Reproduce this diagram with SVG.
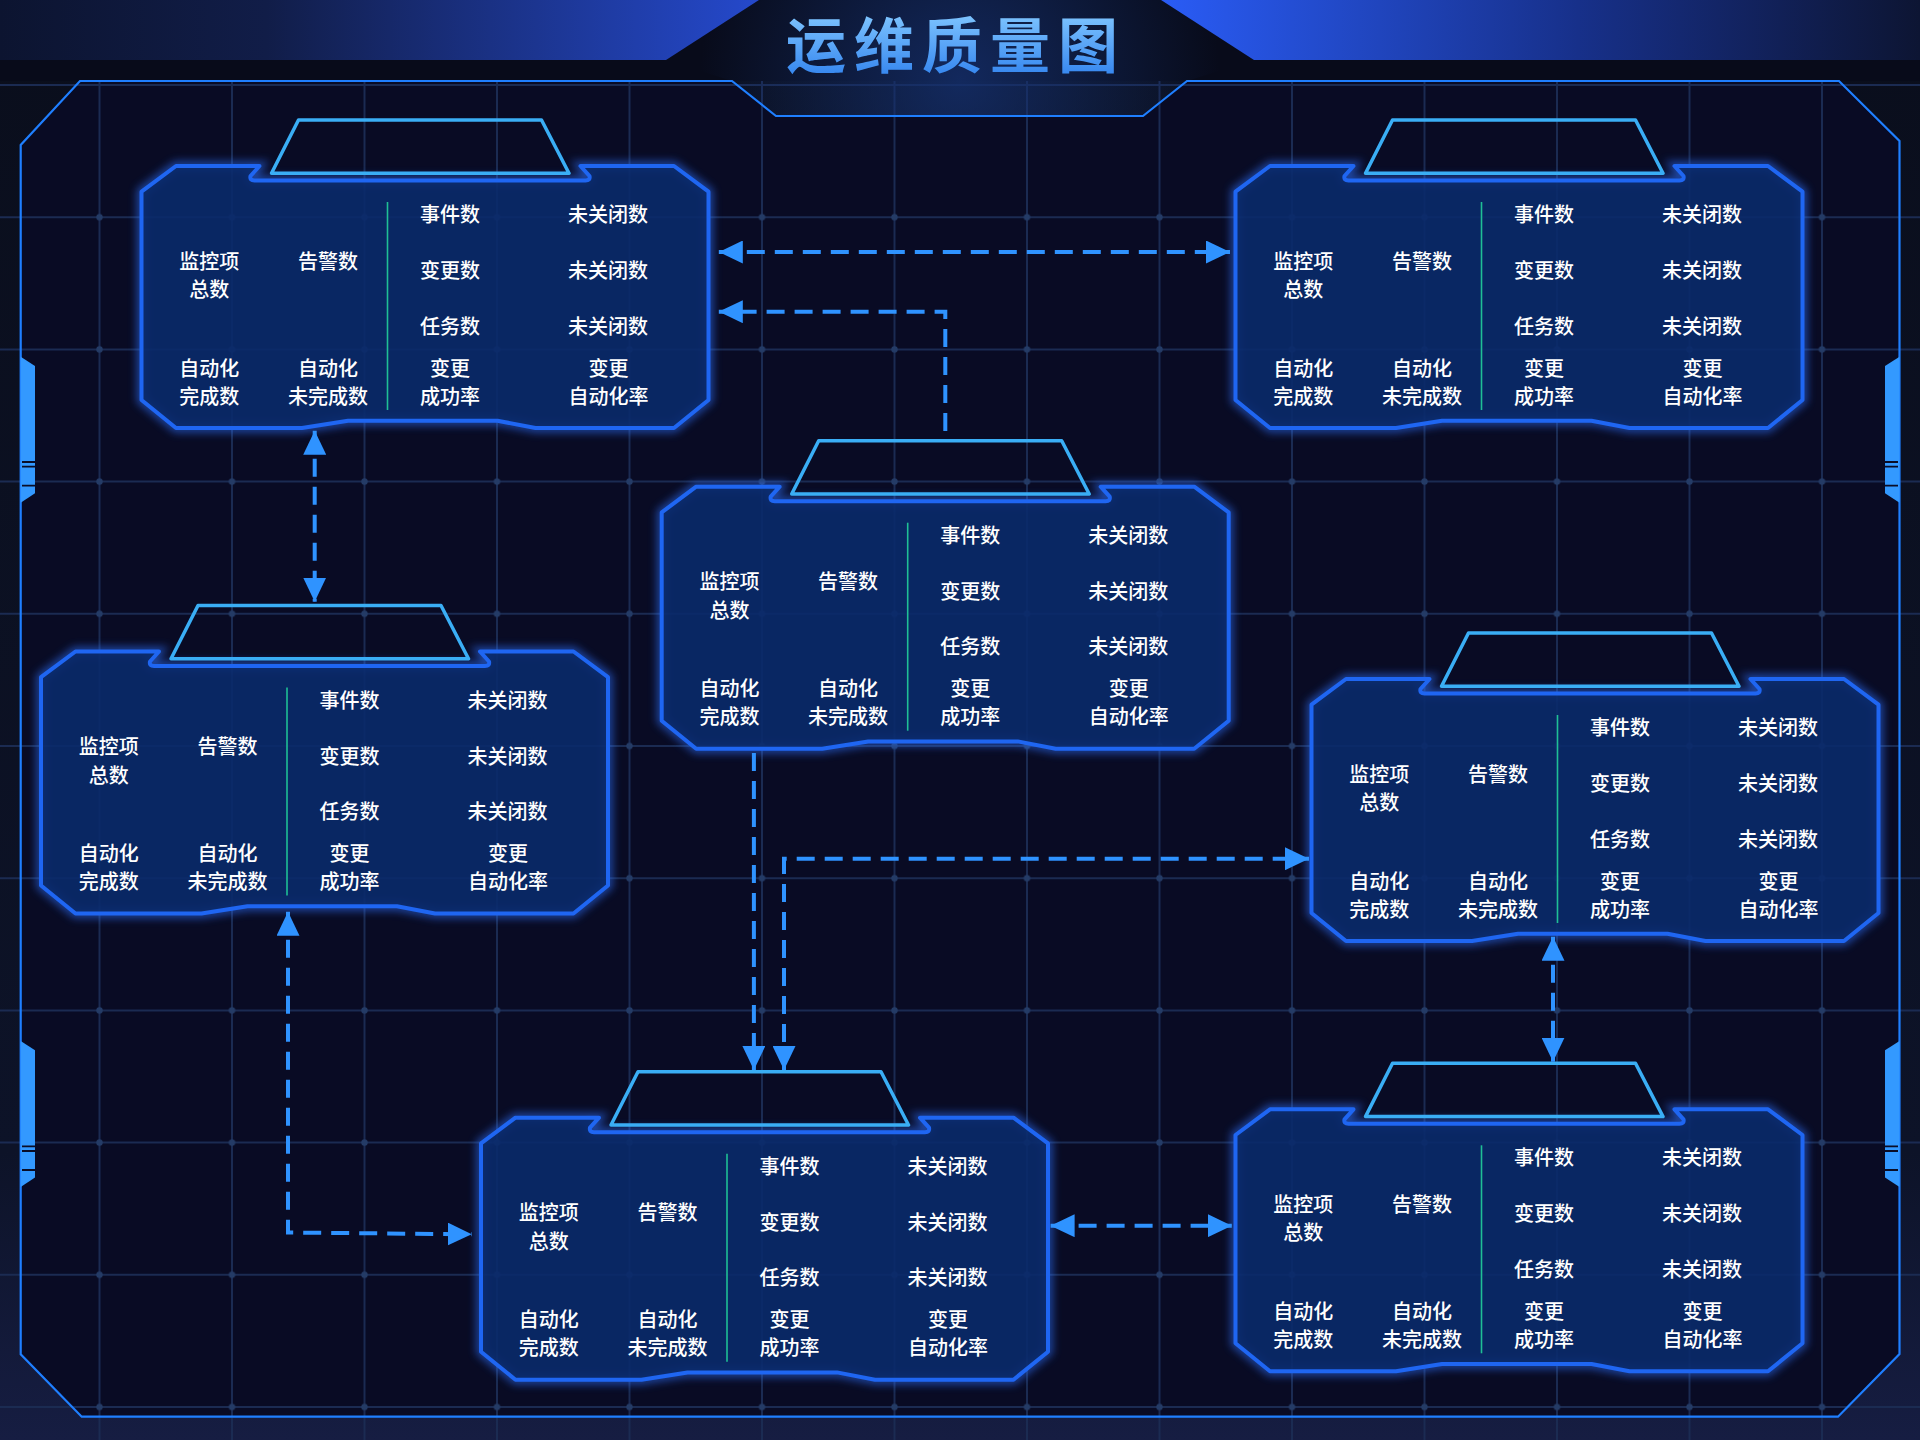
<svg xmlns="http://www.w3.org/2000/svg" width="1920" height="1440" viewBox="0 0 1920 1440">
<defs>
<style>
.grid line{stroke:#1b2b52;stroke-width:2}
.pglow{fill:none;stroke:#2d72ff;stroke-width:9;opacity:.6;filter:url(#glow)}
.pfill{fill:#0a2a6a;fill-opacity:.9;stroke:#1f66f2;stroke-width:4;stroke-linejoin:round}
.tab{fill:none;stroke:#3aaef5;stroke-width:3.5;stroke-linejoin:round}
.div{stroke:#1fbf95;stroke-width:1.6}
.t{font-family:"Noto Sans CJK SC","Noto Sans",sans-serif;font-size:20px;fill:#ffffff;text-anchor:middle;dominant-baseline:central;font-weight:500}
.conn{fill:none;stroke:#2f93ff;stroke-width:4;stroke-dasharray:18 10}
.both{marker-start:url(#arr);marker-end:url(#arr)}
.end{marker-end:url(#arr)}
.decor{fill:#3399ff}
.stripe{stroke:#0a0d26;stroke-width:1.8}
</style>
<linearGradient id="bgGrad" x1="0" y1="0" x2="0" y2="1440" gradientUnits="userSpaceOnUse">
<stop offset="0" stop-color="#0a0e1c"/><stop offset="0.8" stop-color="#0d1328"/><stop offset="1" stop-color="#161d42"/>
</linearGradient>
<linearGradient id="hdrL" x1="0" y1="0" x2="760" y2="0" gradientUnits="userSpaceOnUse">
<stop offset="0" stop-color="#0c1430"/><stop offset="0.35" stop-color="#111d48"/><stop offset="1" stop-color="#2549cc"/>
</linearGradient>
<linearGradient id="hdrR" x1="1160" y1="0" x2="1920" y2="0" gradientUnits="userSpaceOnUse">
<stop offset="0" stop-color="#2a5cf6"/><stop offset="0.55" stop-color="#17308a"/><stop offset="1" stop-color="#0d1533"/>
</linearGradient>
<radialGradient id="hdrGlow" cx="960" cy="80" r="260" gradientUnits="userSpaceOnUse">
<stop offset="0" stop-color="#15306e" stop-opacity="0.8"/><stop offset="1" stop-color="#15306e" stop-opacity="0"/>
</radialGradient>
<linearGradient id="titleGrad" x1="0" y1="12" x2="0" y2="72" gradientUnits="userSpaceOnUse">
<stop offset="0" stop-color="#80c6ff"/><stop offset="1" stop-color="#3a8af0"/>
</linearGradient>
<pattern id="dotPat" x="33.25" y="151.1" width="132.5" height="132.2" patternUnits="userSpaceOnUse">
<circle cx="66.25" cy="66.1" r="3.2" fill="#243b66"/>
</pattern>
<filter id="glow" x="-5%" y="-10%" width="110%" height="125%"><feGaussianBlur stdDeviation="4"/></filter>
<marker id="arr" viewBox="0 0 24 23" refX="24" refY="11.5" markerWidth="24" markerHeight="23" markerUnits="userSpaceOnUse" orient="auto-start-reverse"><path d="M0,0 L24,11.5 L0,23 Z" fill="#2f93ff"/></marker>
<path id="panel" d="M0,25.7 L34.5,0 L118,0 L109,10 Q108,14.5 113,14.5 L444,14.5 Q449,14.5 448,10 L439,0 L532.5,0 L567,25.7 L567,234 L532.5,262 L394,262 L356,254.7 L206.5,254.7 L160.5,262 L34.5,262 L0,234 Z"/>
<path id="tabp" d="M157,-46 L400,-46 L427.5,7.3 L130,7.3 Z"/>
</defs>

<rect x="0" y="0" width="1920" height="1440" fill="url(#bgGrad)"/>
<path d="M80,81 L732,81 L776,116 L1143,116 L1187,81 L1839,81 L1899.5,141 L1899.5,1354 L1838,1416.7 L81.7,1416.7 L20.7,1354.3 L20.7,145 Z" fill="#090b24"/>

<g class="grid">
<line x1="99.5" y1="81" x2="99.5" y2="1440"/><line x1="232" y1="81" x2="232" y2="1440"/><line x1="364.5" y1="81" x2="364.5" y2="1440"/><line x1="497" y1="81" x2="497" y2="1440"/><line x1="629.5" y1="81" x2="629.5" y2="1440"/><line x1="762" y1="81" x2="762" y2="1440"/><line x1="894.5" y1="81" x2="894.5" y2="1440"/><line x1="1027" y1="81" x2="1027" y2="1440"/><line x1="1159.5" y1="81" x2="1159.5" y2="1440"/><line x1="1292" y1="81" x2="1292" y2="1440"/><line x1="1424.5" y1="81" x2="1424.5" y2="1440"/><line x1="1557" y1="81" x2="1557" y2="1440"/><line x1="1689.5" y1="81" x2="1689.5" y2="1440"/><line x1="1822" y1="81" x2="1822" y2="1440"/>
<line x1="0" y1="85" x2="1920" y2="85"/><line x1="0" y1="217.2" x2="1920" y2="217.2"/><line x1="0" y1="349.4" x2="1920" y2="349.4"/><line x1="0" y1="481.6" x2="1920" y2="481.6"/><line x1="0" y1="613.8" x2="1920" y2="613.8"/><line x1="0" y1="746" x2="1920" y2="746"/><line x1="0" y1="878.2" x2="1920" y2="878.2"/><line x1="0" y1="1010.4" x2="1920" y2="1010.4"/><line x1="0" y1="1142.6" x2="1920" y2="1142.6"/><line x1="0" y1="1274.8" x2="1920" y2="1274.8"/><line x1="0" y1="1407" x2="1920" y2="1407"/>
</g>
<rect id="grid-dots" x="0" y="151.1" width="1920" height="1288.9" fill="url(#dotPat)"/>

<!-- header -->
<rect x="0" y="0" width="1920" height="81" fill="#080b1a"/>
<path d="M0,0 L759,0 L666,60 L0,60 Z" fill="url(#hdrL)"/>
<path d="M1161,0 L1920,0 L1920,60 L1254,60 Z" fill="url(#hdrR)"/>
<path d="M759,0 L1161,0 L1254,60 L1187,81 L1143,116 L776,116 L732,81 L666,60 Z" fill="url(#hdrGlow)"/>
<text x="956" y="41" font-family="'Noto Sans CJK SC','Noto Sans',sans-serif" font-size="60" font-weight="700" letter-spacing="8" text-anchor="middle" dominant-baseline="central" fill="url(#titleGrad)">运维质量图</text>

<!-- frame -->
<path d="M80,81 L732,81 L776,116 L1143,116 L1187,81 L1839,81 L1899.5,141 L1899.5,1354 L1838,1416.7 L81.7,1416.7 L20.7,1354.3 L20.7,145 Z" fill="none" stroke="#1f7fff" stroke-width="2.2"/>
<g id="frame-decor">
<path class="decor" d="M20.7,356.7 L35,366 L35,493.3 L20.7,502.7 Z"/>
<path class="decor" d="M20.7,1041 L35,1050.3 L35,1177.6 L20.7,1187 Z"/>
<path class="decor" d="M1899.5,356.7 L1885,366 L1885,493.3 L1899.5,502.7 Z"/>
<path class="decor" d="M1899.5,1041 L1885,1050.3 L1885,1177.6 L1899.5,1187 Z"/>
<path class="stripe" d="M22,462 H35 M22,466.7 H35 M22,485.7 H35 M22,1146.3 H35 M22,1151 H35 M22,1170 H35 M1885,462 H1898 M1885,466.7 H1898 M1885,485.7 H1898 M1885,1146.3 H1898 M1885,1151 H1898 M1885,1170 H1898"/>
</g>

<!-- nodes -->
<g id="node-1" transform="translate(141.5,166)">
<use href="#panel" class="pglow"/><use href="#panel" class="pfill"/><use href="#tabp" class="tab"/>
<line class="div" x1="246" y1="36" x2="246" y2="244"/>
<text class="t" x="67.7" y="94">监控项</text><text class="t" x="67.7" y="122.5">总数</text><text class="t" x="186.4" y="94">告警数</text>
<text class="t" x="67.7" y="201">自动化</text><text class="t" x="67.7" y="229">完成数</text><text class="t" x="186.4" y="201">自动化</text><text class="t" x="186.4" y="229">未完成数</text>
<text class="t" x="308.5" y="47.5">事件数</text><text class="t" x="466.5" y="47.5">未关闭数</text><text class="t" x="308.5" y="103.5">变更数</text><text class="t" x="466.5" y="103.5">未关闭数</text><text class="t" x="308.5" y="159">任务数</text><text class="t" x="466.5" y="159">未关闭数</text>
<text class="t" x="308.5" y="201">变更</text><text class="t" x="308.5" y="229">成功率</text><text class="t" x="467" y="201">变更</text><text class="t" x="467" y="229">自动化率</text>
</g>
<g id="node-2" transform="translate(1235.5,166)">
<use href="#panel" class="pglow"/><use href="#panel" class="pfill"/><use href="#tabp" class="tab"/>
<line class="div" x1="246" y1="36" x2="246" y2="244"/>
<text class="t" x="67.7" y="94">监控项</text><text class="t" x="67.7" y="122.5">总数</text><text class="t" x="186.4" y="94">告警数</text>
<text class="t" x="67.7" y="201">自动化</text><text class="t" x="67.7" y="229">完成数</text><text class="t" x="186.4" y="201">自动化</text><text class="t" x="186.4" y="229">未完成数</text>
<text class="t" x="308.5" y="47.5">事件数</text><text class="t" x="466.5" y="47.5">未关闭数</text><text class="t" x="308.5" y="103.5">变更数</text><text class="t" x="466.5" y="103.5">未关闭数</text><text class="t" x="308.5" y="159">任务数</text><text class="t" x="466.5" y="159">未关闭数</text>
<text class="t" x="308.5" y="201">变更</text><text class="t" x="308.5" y="229">成功率</text><text class="t" x="467" y="201">变更</text><text class="t" x="467" y="229">自动化率</text>
</g>
<g id="node-3" transform="translate(661.7,486.7)">
<use href="#panel" class="pglow"/><use href="#panel" class="pfill"/><use href="#tabp" class="tab"/>
<line class="div" x1="246" y1="36" x2="246" y2="244"/>
<text class="t" x="67.7" y="94">监控项</text><text class="t" x="67.7" y="122.5">总数</text><text class="t" x="186.4" y="94">告警数</text>
<text class="t" x="67.7" y="201">自动化</text><text class="t" x="67.7" y="229">完成数</text><text class="t" x="186.4" y="201">自动化</text><text class="t" x="186.4" y="229">未完成数</text>
<text class="t" x="308.5" y="47.5">事件数</text><text class="t" x="466.5" y="47.5">未关闭数</text><text class="t" x="308.5" y="103.5">变更数</text><text class="t" x="466.5" y="103.5">未关闭数</text><text class="t" x="308.5" y="159">任务数</text><text class="t" x="466.5" y="159">未关闭数</text>
<text class="t" x="308.5" y="201">变更</text><text class="t" x="308.5" y="229">成功率</text><text class="t" x="467" y="201">变更</text><text class="t" x="467" y="229">自动化率</text>
</g>
<g id="node-4" transform="translate(41,651.5)">
<use href="#panel" class="pglow"/><use href="#panel" class="pfill"/><use href="#tabp" class="tab"/>
<line class="div" x1="246" y1="36" x2="246" y2="244"/>
<text class="t" x="67.7" y="94">监控项</text><text class="t" x="67.7" y="122.5">总数</text><text class="t" x="186.4" y="94">告警数</text>
<text class="t" x="67.7" y="201">自动化</text><text class="t" x="67.7" y="229">完成数</text><text class="t" x="186.4" y="201">自动化</text><text class="t" x="186.4" y="229">未完成数</text>
<text class="t" x="308.5" y="47.5">事件数</text><text class="t" x="466.5" y="47.5">未关闭数</text><text class="t" x="308.5" y="103.5">变更数</text><text class="t" x="466.5" y="103.5">未关闭数</text><text class="t" x="308.5" y="159">任务数</text><text class="t" x="466.5" y="159">未关闭数</text>
<text class="t" x="308.5" y="201">变更</text><text class="t" x="308.5" y="229">成功率</text><text class="t" x="467" y="201">变更</text><text class="t" x="467" y="229">自动化率</text>
</g>
<g id="node-5" transform="translate(1311.5,679)">
<use href="#panel" class="pglow"/><use href="#panel" class="pfill"/><use href="#tabp" class="tab"/>
<line class="div" x1="246" y1="36" x2="246" y2="244"/>
<text class="t" x="67.7" y="94">监控项</text><text class="t" x="67.7" y="122.5">总数</text><text class="t" x="186.4" y="94">告警数</text>
<text class="t" x="67.7" y="201">自动化</text><text class="t" x="67.7" y="229">完成数</text><text class="t" x="186.4" y="201">自动化</text><text class="t" x="186.4" y="229">未完成数</text>
<text class="t" x="308.5" y="47.5">事件数</text><text class="t" x="466.5" y="47.5">未关闭数</text><text class="t" x="308.5" y="103.5">变更数</text><text class="t" x="466.5" y="103.5">未关闭数</text><text class="t" x="308.5" y="159">任务数</text><text class="t" x="466.5" y="159">未关闭数</text>
<text class="t" x="308.5" y="201">变更</text><text class="t" x="308.5" y="229">成功率</text><text class="t" x="467" y="201">变更</text><text class="t" x="467" y="229">自动化率</text>
</g>
<g id="node-6" transform="translate(481,1117.7)">
<use href="#panel" class="pglow"/><use href="#panel" class="pfill"/><use href="#tabp" class="tab"/>
<line class="div" x1="246" y1="36" x2="246" y2="244"/>
<text class="t" x="67.7" y="94">监控项</text><text class="t" x="67.7" y="122.5">总数</text><text class="t" x="186.4" y="94">告警数</text>
<text class="t" x="67.7" y="201">自动化</text><text class="t" x="67.7" y="229">完成数</text><text class="t" x="186.4" y="201">自动化</text><text class="t" x="186.4" y="229">未完成数</text>
<text class="t" x="308.5" y="47.5">事件数</text><text class="t" x="466.5" y="47.5">未关闭数</text><text class="t" x="308.5" y="103.5">变更数</text><text class="t" x="466.5" y="103.5">未关闭数</text><text class="t" x="308.5" y="159">任务数</text><text class="t" x="466.5" y="159">未关闭数</text>
<text class="t" x="308.5" y="201">变更</text><text class="t" x="308.5" y="229">成功率</text><text class="t" x="467" y="201">变更</text><text class="t" x="467" y="229">自动化率</text>
</g>
<g id="node-7" transform="translate(1235.5,1109.3)">
<use href="#panel" class="pglow"/><use href="#panel" class="pfill"/><use href="#tabp" class="tab"/>
<line class="div" x1="246" y1="36" x2="246" y2="244"/>
<text class="t" x="67.7" y="94">监控项</text><text class="t" x="67.7" y="122.5">总数</text><text class="t" x="186.4" y="94">告警数</text>
<text class="t" x="67.7" y="201">自动化</text><text class="t" x="67.7" y="229">完成数</text><text class="t" x="186.4" y="201">自动化</text><text class="t" x="186.4" y="229">未完成数</text>
<text class="t" x="308.5" y="47.5">事件数</text><text class="t" x="466.5" y="47.5">未关闭数</text><text class="t" x="308.5" y="103.5">变更数</text><text class="t" x="466.5" y="103.5">未关闭数</text><text class="t" x="308.5" y="159">任务数</text><text class="t" x="466.5" y="159">未关闭数</text>
<text class="t" x="308.5" y="201">变更</text><text class="t" x="308.5" y="229">成功率</text><text class="t" x="467" y="201">变更</text><text class="t" x="467" y="229">自动化率</text>
</g>

<!-- connectors -->
<g id="connectors">
<path class="conn both" d="M718.8,252 H1230"/>
<path class="conn end" d="M945.3,431 V311.7 H718.8"/>
<path class="conn both" d="M314.7,430.7 V601.7"/>
<path class="conn both" d="M288,911.7 V1232.5 L471.7,1234.3"/>
<path class="conn end" d="M753.9,753 V1070"/>
<path class="conn both" d="M784,1070 V858.7 H1309"/>
<path class="conn both" d="M1553,936.7 V1061.7"/>
<path class="conn both" d="M1050.6,1225.7 H1231.8"/>
</g>
</svg>
